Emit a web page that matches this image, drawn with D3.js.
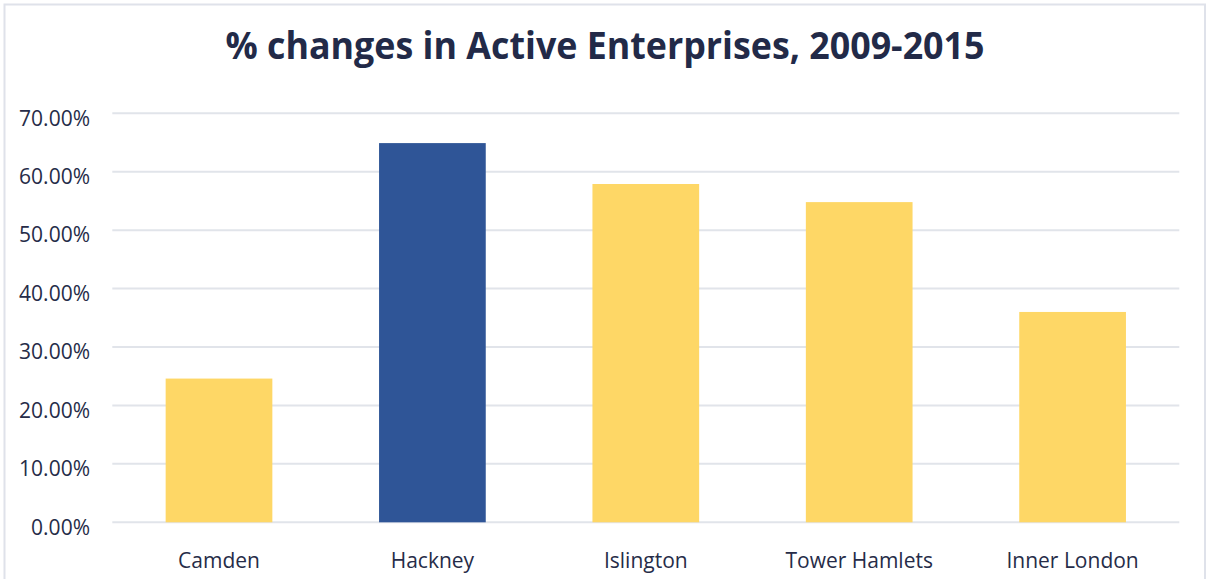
<!DOCTYPE html>
<html>
<head>
<meta charset="utf-8">
<script src="https://cdn.jsdelivr.net/npm/d3@7/dist/d3.min.js"></script>
<style>
  html, body { margin: 0; padding: 0; background: #ffffff; }
  svg { display: block; }
</style>
</head>
<body>
<svg id="chart" width="1207" height="579"></svg>
<script>
// Percentage change in active enterprises, 2009-2015
const categories = ["Camden", "Hackney", "Islington", "Tower Hamlets", "Inner London"];
const values = [24.6, 64.9, 57.9, 54.8, 36.0];
const highlight = ["Hackney"];
const yTicks = [0, 10, 20, 30, 40, 50, 60, 70];
const titleText = "% changes in Active Enterprises, 2009-2015";

const W = 1207, H = 579;
const margin = { left: 112.3, right: W - 1179.3, top: 113.3, bottom: H - 522.3 };

const svg = d3.select("#chart");
const textColor = "#262c48";

// Outer frame
svg.append("rect")
  .attr("x", 4.5).attr("y", 4.5)
  .attr("width", 1200.5).attr("height", 600)
  .attr("fill", "none")
  .attr("stroke", "#dfe2ea")
  .attr("stroke-width", 2);

const x = d3.scaleBand()
  .domain(categories)
  .range([margin.left, W - margin.right])
  .paddingInner(0.5)
  .paddingOuter(0.25);

const y = d3.scaleLinear()
  .domain([0, 70])
  .range([H - margin.bottom, margin.top]);

// Horizontal gridlines
svg.append("g")
  .selectAll("line")
  .data(yTicks)
  .join("line")
  .attr("x1", margin.left)
  .attr("x2", W - margin.right)
  .attr("y1", d => y(d))
  .attr("y2", d => y(d))
  .attr("stroke", "#e1e4ea")
  .attr("stroke-width", 2);

// Y-axis labels
const yAxis = d3.axisLeft(y)
  .tickValues(yTicks)
  .tickFormat(d => d3.format(".2f")(d) + "%")
  .tickSize(0)
  .tickPadding(0);

svg.append("g")
  .attr("transform", `translate(90,0)`)
  .call(yAxis)
  .call(g => g.select(".domain").remove())
  .call(g => g.selectAll("text")
    .attr("font-family", "'Open Sans', sans-serif")
    .attr("font-size", 21)
    .attr("fill", textColor)
    .attr("dy", "0.56em"));

// Bars
svg.append("g")
  .selectAll("rect")
  .data(categories.map((c, i) => ({ c, v: values[i] })))
  .join("rect")
  .attr("x", d => x(d.c))
  .attr("width", x.bandwidth())
  .attr("y", d => y(d.v))
  .attr("height", d => y(0) - y(d.v))
  .attr("fill", d => highlight.includes(d.c) ? "#2f5597" : "#fed766");

// Category labels
const xAxis = d3.axisBottom(x).tickSize(0).tickPadding(0);
svg.append("g")
  .attr("transform", `translate(0,567.5)`)
  .call(xAxis)
  .call(g => g.select(".domain").remove())
  .call(g => g.selectAll("text")
    .attr("dy", 0)
    .attr("font-family", "'Open Sans', sans-serif")
    .attr("font-size", 21)
    .attr("fill", textColor));

// Title
svg.append("text")
  .attr("x", 605)
  .attr("y", 58.5)
  .attr("text-anchor", "middle")
  .attr("font-family", "'Open Sans', sans-serif")
  .attr("font-weight", "bold")
  .attr("font-size", 38)
  .attr("fill", "#222a48")
  .attr("textLength", 759)
  .attr("lengthAdjust", "spacingAndGlyphs")
  .text(titleText);
</script>
</body>
</html>
